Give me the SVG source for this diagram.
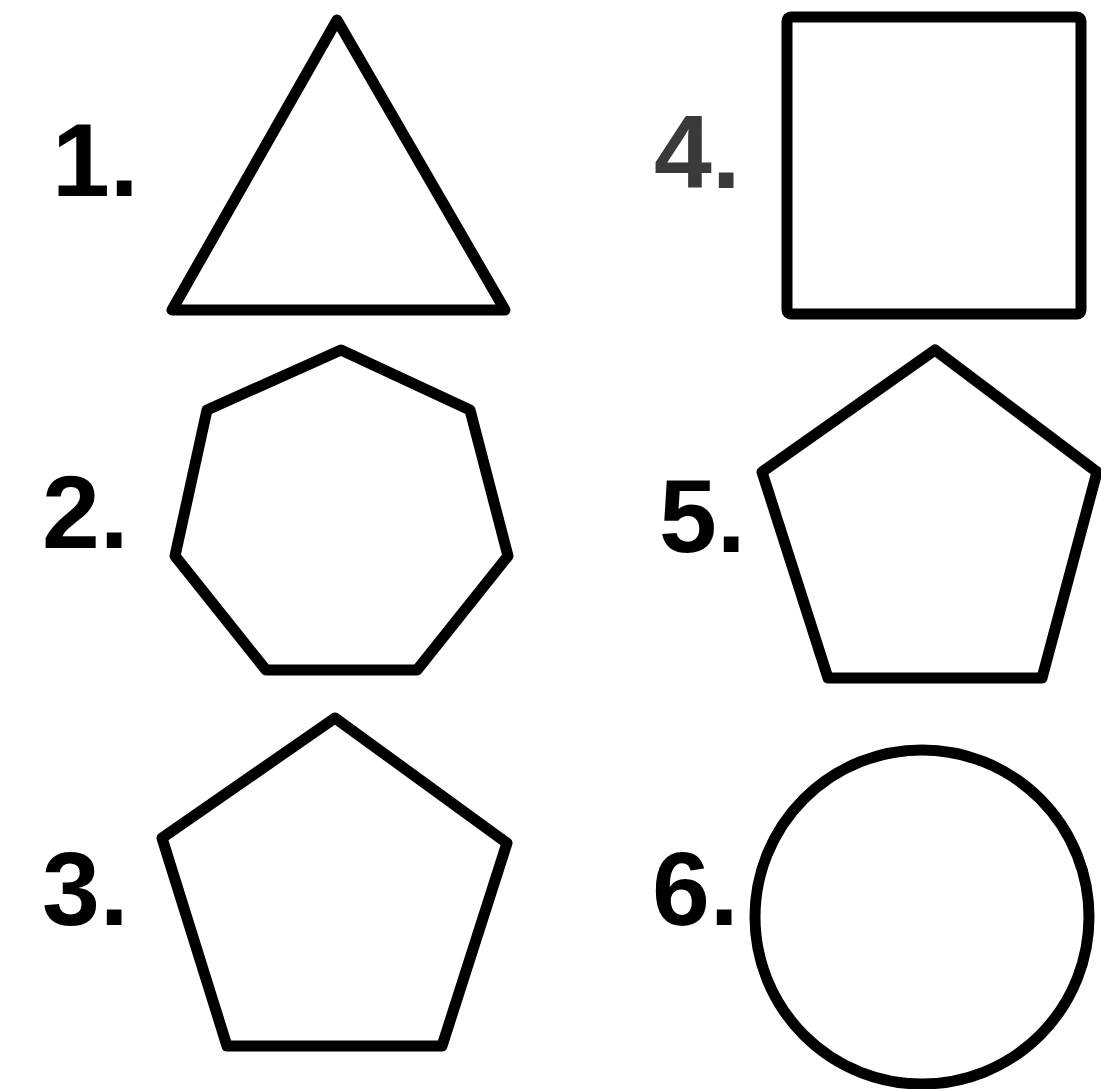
<svg xmlns="http://www.w3.org/2000/svg" width="1101" height="1089" viewBox="0 0 1101 1089">
<style>
.s{fill:none;stroke:#000;stroke-width:11;stroke-linejoin:round}
.t{font-family:"Liberation Sans",Arial,sans-serif;font-weight:bold;font-size:104px;fill:#000}
</style>
<rect width="1101" height="1089" fill="#fff"/>
<g id="shape1">
<polygon class="s" points="337,20 172,310 505,310"/>
<text class="t" x="52" y="196">1.</text>
</g>
<g id="shape2">
<polygon class="s" points="341,350 470,410 508,556 417,670 266,670 175,556 207,410"/>
<text class="t" x="42" y="548">2.</text>
</g>
<g id="shape3">
<polygon class="s" points="335,718 507,843 442,1046 227,1046 162,838"/>
<text class="t" x="42" y="925">3.</text>
</g>
<g id="shape4">
<rect class="s" x="787" y="17" width="294" height="297" rx="4"/>
<text class="t" x="654" y="188" style="fill:#3a3a3a">4.</text>
</g>
<g id="shape5">
<polygon class="s" points="935,350 1097,472 1042,678 828,678 762,472"/>
<text class="t" x="659" y="552">5.</text>
</g>
<g id="shape6">
<circle class="s" cx="922" cy="917" r="167"/>
<text class="t" x="652" y="925">6.</text>
</g>
<g id="connectors"></g>
</svg>
